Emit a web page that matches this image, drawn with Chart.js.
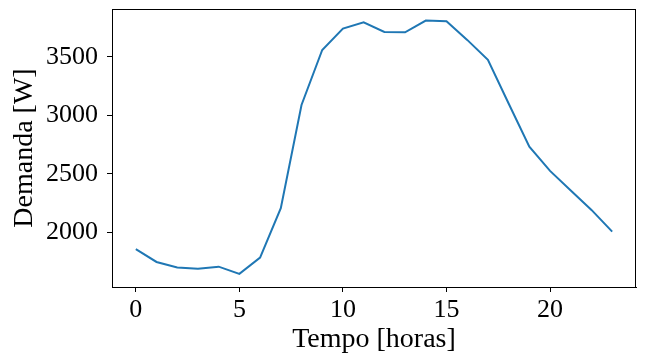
<!DOCTYPE html>
<html>
<head>
<meta charset="utf-8">
<script src="https://cdn.jsdelivr.net/npm/chart.js@4"></script>
<style>
  body { margin: 0; background: #fff; }
  #wrap { width: 652px; height: 356px; }
</style>
</head>
<body>
<div id="wrap"><canvas id="demand-chart"></canvas></div>
<script>
// Data
const hours = [0, 1, 2, 3, 4, 5, 6, 7, 8, 9, 10, 11, 12, 13, 14, 15, 16, 17, 18, 19, 20, 21, 22, 23];
const demand = [1855, 1746, 1698, 1689, 1706, 1644, 1783, 2205, 3088, 3558, 3740, 3795,
                3712, 3709, 3809, 3803, 3644, 3473, 3100, 2732, 2524, 2356, 2191, 2005];
const xTicks = [0, 5, 10, 15, 20];
const yTicks = [2000, 2500, 3000, 3500];

const serif = "'Liberation Serif', 'Times New Roman', serif";

// draws the full box round the plot, like matplotlib spines
const frameBox = {
    id: 'frameBox',
    afterDraw(chart) {
        const { ctx, chartArea: a } = chart;
        ctx.save();
        ctx.strokeStyle = '#000';
        ctx.lineWidth = 1;
        ctx.strokeRect(a.left + 0.5, a.top + 0.5, a.right - a.left - 1, a.bottom - a.top);
        ctx.restore();
    }
};

const points = hours.map((h, i) => ({ x: h, y: demand[i] }));

new Chart(document.getElementById('demand-chart'), {
    type: 'line',
    data: {
        datasets: [{
            data: points,
            borderColor: '#1f77b4',
            borderWidth: 2,
            pointRadius: 0,
            tension: 0,
            fill: false
        }]
    },
    options: {
        responsive: true,
        maintainAspectRatio: false,
        animation: false,
        events: [],
        layout: { padding: { left: 0, right: 16, top: 9, bottom: 0 } },
        plugins: { legend: { display: false }, tooltip: { enabled: false } },
        scales: {
            x: {
                type: 'linear',
                min: -1.15,
                max: 24.15,
                afterFit(s) { s.height = 69; s.paddingLeft = 0; s.paddingRight = 0; },
                afterBuildTicks(s) { s.ticks = xTicks.map(v => ({ value: v })); },
                ticks: {
                    font: { family: serif, size: 26 },
                    color: '#000',
                    padding: 3,
                    maxRotation: 0,
                    callback: v => String(v)
                },
                grid: { drawOnChartArea: false, drawTicks: true, tickLength: 5, color: '#000' },
                border: { display: true, color: '#000' },
                title: {
                    display: true,
                    text: 'Tempo [horas]',
                    color: '#000',
                    font: { family: serif, size: 28, lineHeight: 1.2 },
                    padding: { top: 0, bottom: 0 }
                }
            },
            y: {
                min: 1532,
                max: 3908,
                afterFit(s) { s.width = 112; s.paddingTop = 0; s.paddingBottom = 0; },
                afterBuildTicks(s) { s.ticks = yTicks.map(v => ({ value: v })); },
                ticks: {
                    font: { family: serif, size: 26 },
                    color: '#000',
                    padding: 9,
                    callback: v => String(v)
                },
                grid: { drawOnChartArea: false, drawTicks: true, tickLength: 5, color: '#000' },
                border: { display: true, color: '#000' },
                title: {
                    display: true,
                    text: 'Demanda [W]',
                    color: '#000',
                    font: { family: serif, size: 28, lineHeight: 1.2 },
                    padding: { top: 8, bottom: 0 }
                }
            }
        }
    },
    plugins: [frameBox]
});
</script>
</body>
</html>
